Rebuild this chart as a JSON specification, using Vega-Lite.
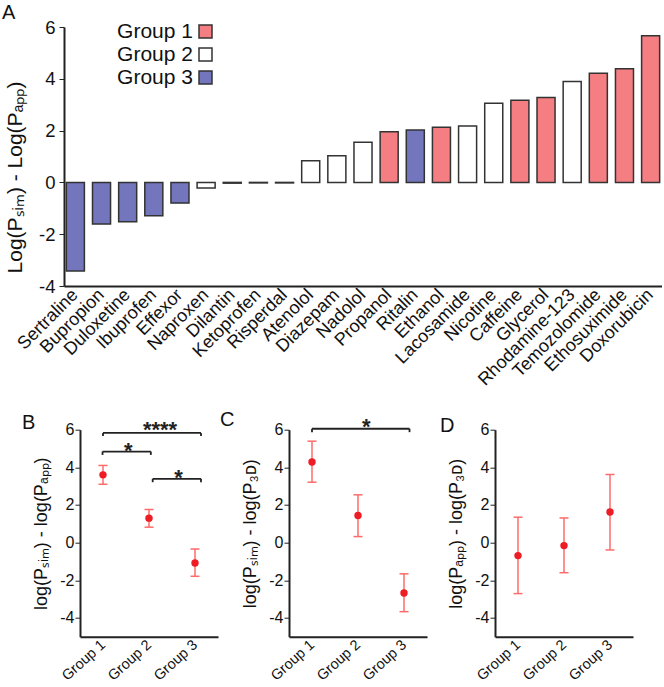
{
  "$schema": "https://vega.github.io/schema/vega-lite/v6.json",
  "padding": {"left": 2, "top": 3, "right": 0, "bottom": 0},
  "config": {
    "view": {"stroke": null},
    "font": "Liberation Sans",
    "axis": {"grid": false, "domainColor": "#222", "tickColor": "#222", "labelColor": "#111", "titleColor": "#111", "labelFont": "Liberation Sans", "titleFont": "Liberation Sans", "titleFontWeight": "normal", "labelFlush": false, "labelOverlap": false},
    "title": {"font": "Liberation Sans", "fontWeight": "normal", "fontSize": 20, "color": "#111", "anchor": "start", "frame": "group", "orient": "top", "offset": 0, "baseline": "alphabetic"}
  },
  "datasets": {
    "bars": [
      {"drug": "Sertraline", "value": -3.42, "group": "Group 3"},
      {"drug": "Bupropion", "value": -1.61, "group": "Group 3"},
      {"drug": "Duloxetine", "value": -1.52, "group": "Group 3"},
      {"drug": "Ibuprofen", "value": -1.29, "group": "Group 3"},
      {"drug": "Effexor", "value": -0.8, "group": "Group 3"},
      {"drug": "Naproxen", "value": -0.22, "group": "Group 2"},
      {"drug": "Dilantin", "value": -0.03, "group": "Group 2"},
      {"drug": "Ketoprofen", "value": -0.02, "group": "Group 2"},
      {"drug": "Risperdal", "value": -0.02, "group": "Group 2"},
      {"drug": "Atenolol", "value": 0.84, "group": "Group 2"},
      {"drug": "Diazepam", "value": 1.03, "group": "Group 2"},
      {"drug": "Nadolol", "value": 1.55, "group": "Group 2"},
      {"drug": "Propanol", "value": 1.96, "group": "Group 1"},
      {"drug": "Ritalin", "value": 2.02, "group": "Group 3"},
      {"drug": "Ethanol", "value": 2.13, "group": "Group 1"},
      {"drug": "Lacosamide", "value": 2.18, "group": "Group 2"},
      {"drug": "Nicotine", "value": 3.06, "group": "Group 2"},
      {"drug": "Caffeine", "value": 3.17, "group": "Group 1"},
      {"drug": "Glycerol", "value": 3.28, "group": "Group 1"},
      {"drug": "Rhodamine-123", "value": 3.9, "group": "Group 2"},
      {"drug": "Temozolomide", "value": 4.21, "group": "Group 1"},
      {"drug": "Ethosuximide", "value": 4.39, "group": "Group 1"},
      {"drug": "Doxorubicin", "value": 5.66, "group": "Group 1"}
    ],
    "pts": [
      {"panel": "B", "g": 1, "v": 3.6, "lo": 3.1, "hi": 4.1},
      {"panel": "B", "g": 2, "v": 1.3, "lo": 0.82, "hi": 1.76},
      {"panel": "B", "g": 3, "v": -1.08, "lo": -1.79, "hi": -0.34},
      {"panel": "C", "g": 1, "v": 4.28, "lo": 3.21, "hi": 5.39},
      {"panel": "C", "g": 2, "v": 1.44, "lo": 0.32, "hi": 2.54},
      {"panel": "C", "g": 3, "v": -2.68, "lo": -3.67, "hi": -1.66},
      {"panel": "D", "g": 1, "v": -0.69, "lo": -2.71, "hi": 1.35},
      {"panel": "D", "g": 2, "v": -0.16, "lo": -1.6, "hi": 1.31},
      {"panel": "D", "g": 3, "v": 1.63, "lo": -0.39, "hi": 3.62}
    ],
    "brk": [
      {"panel": "B", "x1": 1.0, "x2": 3.13, "y": 5.83, "yt": 5.67, "sx": 2.24, "sy": 5.62, "label": "****"},
      {"panel": "B", "x1": 0.99, "x2": 2.04, "y": 4.84, "yt": 4.66, "sx": 1.55, "sy": 4.52, "label": "*"},
      {"panel": "B", "x1": 2.08, "x2": 3.13, "y": 3.39, "yt": 3.21, "sx": 2.64, "sy": 3.06, "label": "*"},
      {"panel": "C", "x1": 1.0, "x2": 3.12, "y": 6.05, "yt": 5.87, "sx": 2.18, "sy": 5.79, "label": "*"}
    ]
  },
  "bounds": "flush",
  "spacing": 143.7,
  "vconcat": [
    {
      "width": 598,
      "height": 259,
      "title": {"text": "A", "dx": -62, "dy": 9},
      "data": {"name": "bars"},
      "mark": {"type": "bar", "stroke": "#333", "strokeWidth": 1.5},
      "encoding": {
        "x": {
          "field": "drug", "type": "nominal", "sort": null,
          "scale": {"paddingInner": 0.31, "paddingOuter": 0.09},
          "axis": {"title": null, "labelAngle": -45, "labelAlign": "right", "labelBaseline": "middle", "labelFontSize": 18, "ticks": false, "labelPadding": 6, "domainWidth": 2}
        },
        "y": {
          "field": "value", "type": "quantitative",
          "scale": {"domain": [-4, 6], "nice": false},
          "axis": {"values": [-4, -2, 0, 2, 4, 6], "labelExpr": "'' + datum.value", "title": "Log(Pₛᵢₘ) - Log(Pₐₚₚ)", "titleFontSize": 21, "titleY": 150, "labelFontSize": 18.5, "tickSize": 5, "domainWidth": 2, "labelPadding": 4, "titlePadding": 13}
        },
        "fill": {
          "field": "group", "type": "nominal",
          "scale": {"domain": ["Group 1", "Group 2", "Group 3"], "range": ["#f47e82", "#ffffff", "#7375bd"]},
          "legend": {"title": null, "orient": "none", "legendX": 131, "legendY": -6, "padding": 0, "labelFontSize": 21, "labelColor": "#111", "labelAlign": "right", "labelOffset": -23, "labelLimit": 300, "symbolType": "square", "symbolSize": 169, "symbolStrokeColor": "#333", "symbolStrokeWidth": 1.5, "rowPadding": 1, "symbolOpacity": 1}
        }
      }
    },
    {
      "bounds": "flush",
      "spacing": 68,
      "hconcat": [
        {
          "width": 154,
          "height": 207,
          "title": {"text": "B", "dx": -42, "dy": 18},
          "layer": [
            {
              "data": {"name": "pts"},
              "transform": [{"filter": "datum.panel === 'B'"}],
              "mark": {"type": "rule", "color": "#ff6b6b", "strokeWidth": 1.5},
              "encoding": {
                "x": {"field": "g", "type": "quantitative", "scale": {"domain": [0.5, 3.5], "nice": false, "zero": false, "range": [16, 154]}, "axis": {"title": null, "values": [1, 2, 3], "labelExpr": "'Group ' + datum.value", "labelAngle": -42, "labelAlign": "right", "labelBaseline": "middle", "labelFontSize": 14.5, "ticks": false, "labelPadding": 6, "domainWidth": 2}},
                "y": {"field": "lo", "type": "quantitative", "scale": {"domain": [-5, 6], "nice": false}, "axis": {"values": [-4, -2, 0, 2, 4, 6], "labelExpr": "'' + datum.value", "title": "log(Pₛᵢₘ) - log(Pₐₚₚ)", "titleFontSize": 18, "labelFontSize": 16, "tickSize": 5, "domainWidth": 2, "labelPadding": 1, "titlePadding": 9, "offset": -16}},
                "y2": {"field": "hi"}
              }
            },
            {
              "data": {"name": "pts"},
              "transform": [{"filter": "datum.panel === 'B'"}],
              "mark": {"type": "tick", "orient": "horizontal", "color": "#ff6b6b", "size": 9, "thickness": 1.5, "opacity": 1},
              "encoding": {"x": {"field": "g", "type": "quantitative"}, "y": {"field": "lo", "type": "quantitative"}}
            },
            {
              "data": {"name": "pts"},
              "transform": [{"filter": "datum.panel === 'B'"}],
              "mark": {"type": "tick", "orient": "horizontal", "color": "#ff6b6b", "size": 9, "thickness": 1.5, "opacity": 1},
              "encoding": {"x": {"field": "g", "type": "quantitative"}, "y": {"field": "hi", "type": "quantitative"}}
            },
            {
              "data": {"name": "pts"},
              "transform": [{"filter": "datum.panel === 'B'"}],
              "mark": {"type": "point", "shape": "circle", "filled": true, "color": "#ee1c24", "size": 55, "opacity": 1},
              "encoding": {"x": {"field": "g", "type": "quantitative"}, "y": {"field": "v", "type": "quantitative"}}
            },
            {
              "data": {"name": "brk"},
              "transform": [{"filter": "datum.panel === 'B'"}],
              "mark": {"type": "rule", "color": "#222", "strokeWidth": 1.8},
              "encoding": {"x": {"field": "x1", "type": "quantitative"}, "x2": {"field": "x2"}, "y": {"field": "y", "type": "quantitative"}}
            },
            {
              "data": {"name": "brk"},
              "transform": [{"filter": "datum.panel === 'B'"}],
              "mark": {"type": "rule", "color": "#222", "strokeWidth": 1.8},
              "encoding": {"x": {"field": "x1", "type": "quantitative"}, "y": {"field": "y", "type": "quantitative"}, "y2": {"field": "yt"}}
            },
            {
              "data": {"name": "brk"},
              "transform": [{"filter": "datum.panel === 'B'"}],
              "mark": {"type": "rule", "color": "#222", "strokeWidth": 1.8},
              "encoding": {"x": {"field": "x2", "type": "quantitative"}, "y": {"field": "y", "type": "quantitative"}, "y2": {"field": "yt"}}
            },
            {
              "data": {"name": "brk"},
              "transform": [{"filter": "datum.panel === 'B'"}],
              "mark": {"type": "text", "color": "#222", "fontSize": 22, "fontWeight": "bold", "align": "center", "baseline": "alphabetic"},
              "encoding": {"x": {"field": "sx", "type": "quantitative"}, "y": {"field": "sy", "type": "quantitative"}, "text": {"field": "label"}}
            }
          ]
        },
        {
          "width": 141,
          "height": 207,
          "title": {"text": "C", "dx": -66, "dy": 18},
          "layer": [
            {
              "data": {"name": "pts"},
              "transform": [{"filter": "datum.panel === 'C'"}],
              "mark": {"type": "rule", "color": "#ff6b6b", "strokeWidth": 1.5},
              "encoding": {
                "x": {"field": "g", "type": "quantitative", "scale": {"domain": [0.5, 3.5], "nice": false, "zero": false, "range": [3, 141]}, "axis": {"title": null, "values": [1, 2, 3], "labelExpr": "'Group ' + datum.value", "labelAngle": -42, "labelAlign": "right", "labelBaseline": "middle", "labelFontSize": 14.5, "ticks": false, "labelPadding": 6, "domainWidth": 2}},
                "y": {"field": "lo", "type": "quantitative", "scale": {"domain": [-5, 6], "nice": false}, "axis": {"values": [-4, -2, 0, 2, 4, 6], "labelExpr": "'' + datum.value", "title": "log(Pₛᵢₘ) - log(P₃ᴅ)", "titleFontSize": 18, "labelFontSize": 16, "tickSize": 5, "domainWidth": 2, "labelPadding": 1, "titlePadding": 9, "offset": -3}},
                "y2": {"field": "hi"}
              }
            },
            {
              "data": {"name": "pts"},
              "transform": [{"filter": "datum.panel === 'C'"}],
              "mark": {"type": "tick", "orient": "horizontal", "color": "#ff6b6b", "size": 9, "thickness": 1.5, "opacity": 1},
              "encoding": {"x": {"field": "g", "type": "quantitative"}, "y": {"field": "lo", "type": "quantitative"}}
            },
            {
              "data": {"name": "pts"},
              "transform": [{"filter": "datum.panel === 'C'"}],
              "mark": {"type": "tick", "orient": "horizontal", "color": "#ff6b6b", "size": 9, "thickness": 1.5, "opacity": 1},
              "encoding": {"x": {"field": "g", "type": "quantitative"}, "y": {"field": "hi", "type": "quantitative"}}
            },
            {
              "data": {"name": "pts"},
              "transform": [{"filter": "datum.panel === 'C'"}],
              "mark": {"type": "point", "shape": "circle", "filled": true, "color": "#ee1c24", "size": 55, "opacity": 1},
              "encoding": {"x": {"field": "g", "type": "quantitative"}, "y": {"field": "v", "type": "quantitative"}}
            },
            {
              "data": {"name": "brk"},
              "transform": [{"filter": "datum.panel === 'C'"}],
              "mark": {"type": "rule", "color": "#222", "strokeWidth": 1.8},
              "encoding": {"x": {"field": "x1", "type": "quantitative"}, "x2": {"field": "x2"}, "y": {"field": "y", "type": "quantitative"}}
            },
            {
              "data": {"name": "brk"},
              "transform": [{"filter": "datum.panel === 'C'"}],
              "mark": {"type": "rule", "color": "#222", "strokeWidth": 1.8},
              "encoding": {"x": {"field": "x1", "type": "quantitative"}, "y": {"field": "y", "type": "quantitative"}, "y2": {"field": "yt"}}
            },
            {
              "data": {"name": "brk"},
              "transform": [{"filter": "datum.panel === 'C'"}],
              "mark": {"type": "rule", "color": "#222", "strokeWidth": 1.8},
              "encoding": {"x": {"field": "x2", "type": "quantitative"}, "y": {"field": "y", "type": "quantitative"}, "y2": {"field": "yt"}}
            },
            {
              "data": {"name": "brk"},
              "transform": [{"filter": "datum.panel === 'C'"}],
              "mark": {"type": "text", "color": "#222", "fontSize": 22, "fontWeight": "bold", "align": "center", "baseline": "alphabetic"},
              "encoding": {"x": {"field": "sx", "type": "quantitative"}, "y": {"field": "sy", "type": "quantitative"}, "text": {"field": "label"}}
            }
          ]
        },
        {
          "width": 138,
          "height": 207,
          "title": {"text": "D", "dx": -55, "dy": 18},
          "layer": [
            {
              "data": {"name": "pts"},
              "transform": [{"filter": "datum.panel === 'D'"}],
              "mark": {"type": "rule", "color": "#ff6b6b", "strokeWidth": 1.5},
              "encoding": {
                "x": {"field": "g", "type": "quantitative", "scale": {"domain": [0.5, 3.5], "nice": false, "zero": false}, "axis": {"title": null, "values": [1, 2, 3], "labelExpr": "'Group ' + datum.value", "labelAngle": -42, "labelAlign": "right", "labelBaseline": "middle", "labelFontSize": 14.5, "ticks": false, "labelPadding": 6, "domainWidth": 2}},
                "y": {"field": "lo", "type": "quantitative", "scale": {"domain": [-5, 6], "nice": false}, "axis": {"values": [-4, -2, 0, 2, 4, 6], "labelExpr": "'' + datum.value", "title": "log(Pₐₚₚ) - log(P₃ᴅ)", "titleFontSize": 18, "labelFontSize": 16, "tickSize": 5, "domainWidth": 2, "labelPadding": 1, "titlePadding": 9}},
                "y2": {"field": "hi"}
              }
            },
            {
              "data": {"name": "pts"},
              "transform": [{"filter": "datum.panel === 'D'"}],
              "mark": {"type": "tick", "orient": "horizontal", "color": "#ff6b6b", "size": 9, "thickness": 1.5, "opacity": 1},
              "encoding": {"x": {"field": "g", "type": "quantitative"}, "y": {"field": "lo", "type": "quantitative"}}
            },
            {
              "data": {"name": "pts"},
              "transform": [{"filter": "datum.panel === 'D'"}],
              "mark": {"type": "tick", "orient": "horizontal", "color": "#ff6b6b", "size": 9, "thickness": 1.5, "opacity": 1},
              "encoding": {"x": {"field": "g", "type": "quantitative"}, "y": {"field": "hi", "type": "quantitative"}}
            },
            {
              "data": {"name": "pts"},
              "transform": [{"filter": "datum.panel === 'D'"}],
              "mark": {"type": "point", "shape": "circle", "filled": true, "color": "#ee1c24", "size": 55, "opacity": 1},
              "encoding": {"x": {"field": "g", "type": "quantitative"}, "y": {"field": "v", "type": "quantitative"}}
            }
          ]
        }
      ]
    }
  ]
}
